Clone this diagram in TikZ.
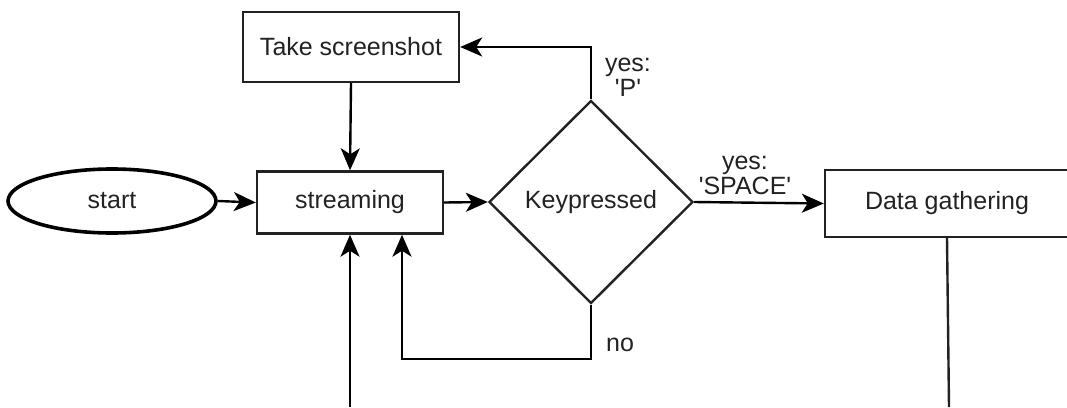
\documentclass[tikz,border=0pt]{standalone}
\usepackage{fontspec}
\setmainfont{Liberation Sans}
% separate family without TeX ligature mapping, so ' stays a straight quote
\newfontfamily\diagfont{Liberation Sans}
\usetikzlibrary{shapes.geometric,arrows.meta,calc}
\definecolor{ink}{HTML}{222222}
\tikzset{
  every node/.style={font=\diagfont\fontsize{25}{25}\selectfont, text=ink},
  box/.style={draw=ink, line width=2.4pt, rectangle, inner sep=0pt},
  term/.style={draw=black, line width=3.6pt, ellipse, inner sep=0pt},
  decide/.style={draw=ink, line width=2.4pt, diamond, inner sep=0pt},
  flow/.style={draw=black, line width=2.4pt, arrows={-Stealth[length=22pt,width=19pt,inset=6pt]}},
  plain/.style={draw=ink, line width=2.4pt},
  lbl/.style={align=center, inner sep=0pt}
}
\begin{document}
\begin{tikzpicture}[x=1pt,y=-1pt]
  \useasboundingbox (0,0) rectangle (1067,407);
  \clip (0,0) rectangle (1067,407);

  % process boxes
  \node[term, minimum width=208pt, minimum height=64pt] (start) at (112,201) {start};
  \node[box, minimum width=186pt, minimum height=62pt] (stream) at (350,202.5) {streaming};
  \node[box, minimum width=216pt, minimum height=70pt] (shot) at (351,47) {Take screenshot};
  \node[decide, minimum width=204pt, minimum height=203pt] (key) at (591,202) {Keypressed};
  \node[box, minimum width=244pt, minimum height=67pt] (data) at (947,203.5) {Data gathering};

  % loose ends running off the bottom
  \coordinate (loopin) at (350,407);
  \coordinate (dataout) at (949,407);

  % main flow
  \draw[flow] (start.east) -- (stream.west);
  \draw[flow] (stream.east) -- (key.west);
  \draw[flow] (shot.south) -- (stream.north);
  \draw[flow] (key.north) |- (shot.east);
  \draw[flow] (key.east) -- (data.west);
  \draw[flow] (key.south) -- ++(0,54) -| ($(stream.south)+(52,0)$);
  \draw[flow] (loopin) -- (stream.south);
  \draw[plain] (data.south) -- (dataout);

  % branch labels
  \node[lbl] (lp) at (628,77) {yes:\\'P'};
  \node[lbl] (lspace) at (745,175) {yes:\\'SPACE'};
  \node[lbl] (lno) at (620,345) {no};
\end{tikzpicture}
\end{document}
